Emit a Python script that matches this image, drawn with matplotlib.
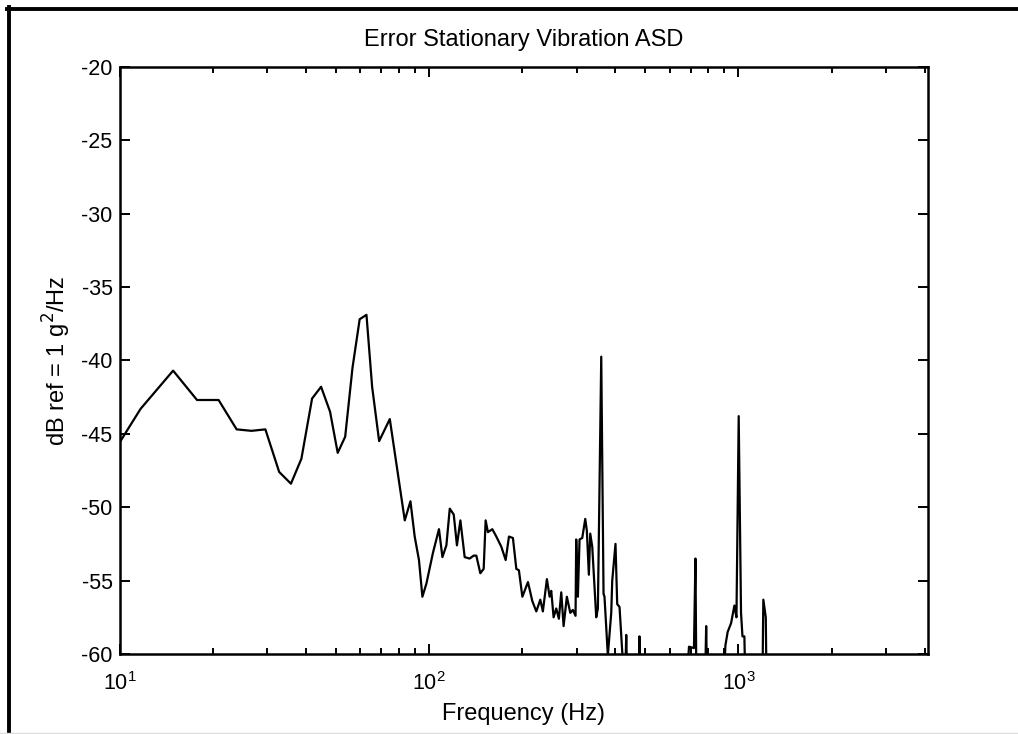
import matplotlib
matplotlib.use("Agg")
import matplotlib.pyplot as plt
from matplotlib.lines import Line2D
from matplotlib.ticker import LogLocator, FixedLocator

plt.rcParams["font.family"] = ["Liberation Sans", "DejaVu Sans"]
plt.rcParams["axes.unicode_minus"] = False

# ASD estimate (dB ref 1 g^2/Hz); values below -60 run off the bottom of the axes
freq_hz = [
    10, 11.7, 14.9, 17.8, 20.9, 23.9, 26.7, 29.6, 32.8, 35.8, 38.7, 41.9,
    44.8, 47.9, 50.7, 53.6, 56.6, 59.7, 62.8, 65.5, 69.0, 74.7, 83.5, 87.1,
    89.9, 92.8, 95.2, 98.1, 103.0, 107.7, 110.5, 113.8, 116.7, 120.2, 123.1,
    126.3, 130.4, 135.3, 139.4, 142.2, 146.5, 150.2, 152.4, 155.0, 160.2,
    165.0, 171.3, 176.9, 181.3, 186.7, 191.5, 195.2, 200.3, 208.8, 215.7,
    222.2, 228.9, 233.3, 240.4, 245.3, 248.3, 252.7, 257.7, 262.8, 267.5,
    272.2, 278.9, 286.1, 291.6, 297.5, 299.0, 302.7, 306.5, 312.7, 319.8,
    323.6, 328.5, 331.9, 336.9, 347.0, 351.3, 360.2, 366.4, 369.0, 378.3,
    388.0, 390.9, 400.5, 405.6, 412.7, 422.9, 430, 433.8, 437, 476, 478.7,
    481, 680, 692, 718, 726, 731, 780, 786.2, 792, 895, 907.4, 922.6, 946.4,
    970, 985, 1001.5, 1019, 1030, 1044.8, 1052, 1195, 1203, 1225, 1232, 4096,
]
asd_db = [
    -45.6, -43.3, -40.7, -42.7, -42.7, -44.7, -44.8, -44.7, -47.6, -48.4,
    -46.7, -42.6, -41.8, -43.5, -46.3, -45.2, -40.5, -37.2, -36.9, -41.8,
    -45.5, -44.0, -50.9, -49.6, -52.0, -53.6, -56.1, -55.2, -53.1, -51.5,
    -53.4, -52.6, -50.1, -50.5, -52.6, -50.9, -53.4, -53.5, -53.3, -53.3,
    -54.5, -54.2, -50.9, -51.7, -51.5, -52.0, -52.7, -53.6, -52.0, -52.1,
    -54.2, -54.3, -56.1, -55.1, -56.4, -57.1, -56.3, -57.1, -54.9, -56.1,
    -55.7, -57.5, -56.9, -57.6, -55.8, -58.1, -56.1, -57.2, -57.0, -57.4,
    -52.2, -56.1, -52.2, -52.1, -50.8, -51.6, -54.6, -51.8, -52.7, -57.5,
    -56.9, -39.75, -55.9, -56.1, -60.1, -57.2, -55.0, -52.5, -56.6, -56.8,
    -60.5, -62, -58.7, -62, -62, -58.8, -62, -62, -59.5, -59.6, -53.5, -62,
    -62, -58.1, -62, -62, -59.4, -58.5, -57.9, -56.7, -57.5, -43.8, -57.2,
    -58.8, -58.8, -62, -62, -56.3, -57.5, -62, -62,
]

y_ticks = [-20, -25, -30, -35, -40, -45, -50, -55, -60]

fig = plt.figure(figsize=(10.18, 7.34), dpi=100)
ax = fig.add_axes([0.1174, 0.109, 0.7942, 0.8001])

ax.plot(freq_hz, asd_db, color="black", linewidth=1.6)

ax.set_xscale("log")
ax.set_xlim(10, 4096)
ax.set_ylim(-60, -20)
ax.yaxis.set_major_locator(FixedLocator(y_ticks))
ax.xaxis.set_major_locator(LogLocator(base=10, numticks=10))
ax.xaxis.set_minor_locator(LogLocator(base=10, subs=range(2, 10), numticks=20))

ax.tick_params(which="both", direction="in", top=True, right=True,
               labelsize=15.5, width=1.4, colors="black")
ax.tick_params(which="major", length=7, pad=5)
ax.tick_params(which="minor", length=4)
ax.tick_params(axis="x", which="major", pad=13)
for s in ax.spines.values():
    s.set_linewidth(1.8)

ax.set_title("Error Stationary Vibration ASD", fontsize=17, pad=15)
ax.set_xlabel("Frequency (Hz)", fontsize=17, labelpad=6)
ax.set_ylabel("dB ref = 1 g$^2$/Hz", fontsize=17, labelpad=6)

# frame drawn round the original figure (top and left edges)
fig.add_artist(Line2D([0.0069, 1.0], [0.9875, 0.9875], transform=fig.transFigure,
                      color="black", linewidth=2.8))
fig.add_artist(Line2D([0.0093, 0.0093], [0.0, 0.99], transform=fig.transFigure,
                      color="black", linewidth=2.8))
fig.add_artist(Line2D([0.0, 1.0], [0.0015, 0.0015], transform=fig.transFigure,
                      color="#dddddd", linewidth=1.0))

fig.savefig("out.png", dpi=100)
